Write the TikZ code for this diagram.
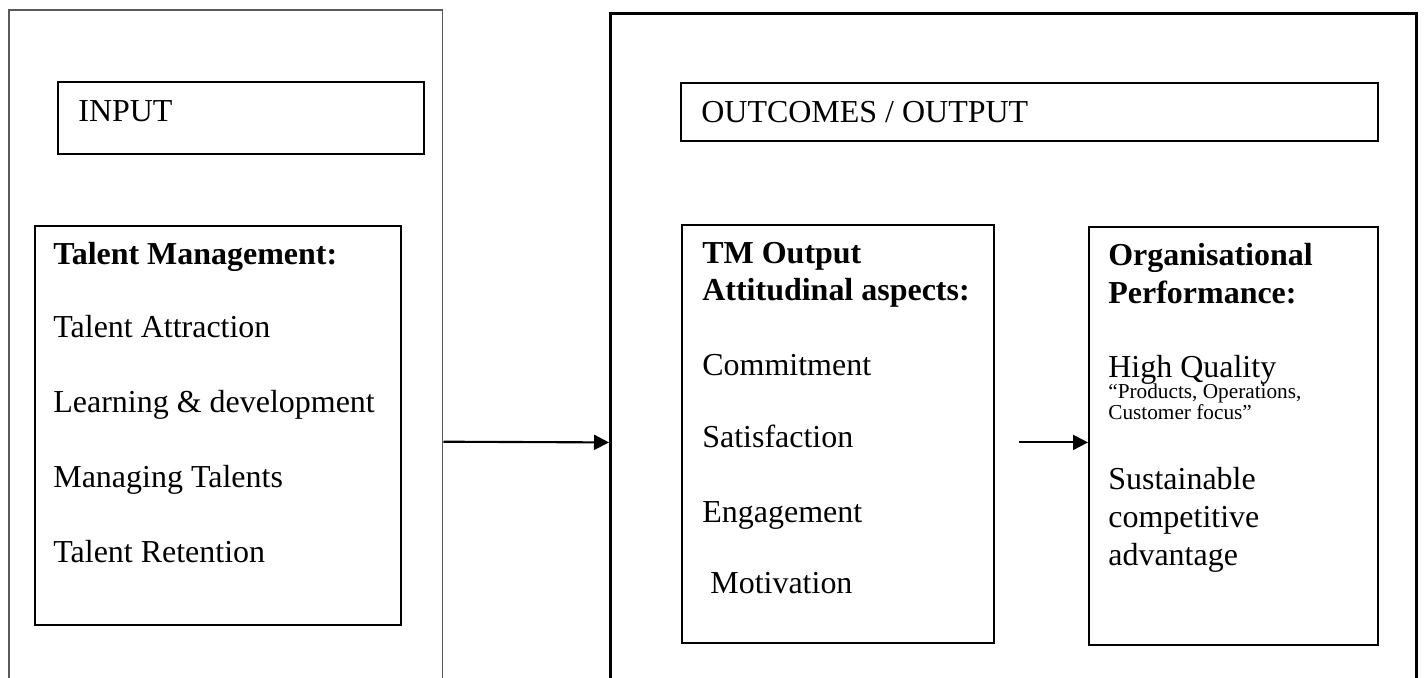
\documentclass[tikz,border=0pt]{standalone}
\usepackage{fontspec}
\setmainfont{Liberation Serif}
\usetikzlibrary{arrows.meta,positioning,calc}

\begin{document}
\begin{tikzpicture}[
    x=0.02cm, y=-0.02cm,
    outerbox/.style={rectangle, draw=black, line width=1.7pt, anchor=north west, inner sep=0pt},
    thinbox/.style={outerbox, draw=black!65, line width=0.9pt},
    panel/.style={rectangle, draw=black, line width=1.1pt, anchor=north west, inner sep=0pt},
    headtxt/.style={anchor=base west, inner sep=0pt, font=\fontsize{18.2}{21}\selectfont\bfseries},
    itemtxt/.style={anchor=base west, inner sep=0pt, font=\fontsize{18.2}{21}\selectfont},
    notetxt/.style={anchor=base west, inner sep=0pt, font=\fontsize{12.1}{13}\selectfont},
    arr/.style={-{Triangle[length=0.3cm, width=0.3cm]}, line width=1.2pt}
]
    \useasboundingbox (0,0) rectangle (1424,677);
    \clip (0,0) rectangle (1424,677);

    % Outer frames (run past the bottom of the page)
    \node[thinbox, minimum width=8.68cm, minimum height=17.28cm] (inframe) at (8,9) {};
    \node[outerbox, minimum width=16.12cm, minimum height=17.16cm] (outframe) at (609,12) {};

    % Input side
    \node[panel, minimum width=7.32cm, minimum height=1.44cm] (inputbox) at (57,81) {};
    \node[itemtxt] (inputlbl) at ($(inputbox.north west)+(21,40)$) {INPUT};
    \node[panel, minimum width=7.32cm, minimum height=7.98cm] (tm) at (34,225) {};
    \node[headtxt] (tmhead) at ($(tm.north west)+(19,39)$) {Talent Management:};
    \foreach \txt [count=\i] in {Talent Attraction, Learning \& development, Managing Talents, Talent Retention}
        \node[itemtxt] (tm-\i) at ($(tmhead.base west)+(0,{73+75*(\i-1)})$) {\txt};

    % Outcomes side
    \node[panel, minimum width=13.94cm, minimum height=1.16cm] (outbox) at (680,82) {};
    \node[itemtxt] (outlbl) at ($(outbox.north west)+(21,40)$) {OUTCOMES / OUTPUT};
    \node[panel, minimum width=6.24cm, minimum height=8.36cm] (tmout) at (681,224) {};
    \node[headtxt] (attA) at ($(tmout.north west)+(21,39)$) {TM Output};
    \node[headtxt] (attB) at ($(attA.base west)+(0,37)$) {Attitudinal aspects:};
    \foreach \txt/\dy [count=\i] in {Commitment/75, Satisfaction/147, Engagement/222, \ Motivation/293}
        \node[itemtxt] (att-\i) at ($(attB.base west)+(0,\dy)$) {\txt};

    % Performance side
    \node[panel, minimum width=5.78cm, minimum height=8.36cm] (org) at (1088,226) {};
    \node[headtxt] (orgA) at ($(org.north west)+(20,39)$) {Organisational};
    \node[headtxt] (orgB) at ($(orgA.base west)+(0,38)$) {Performance:};
    \node[itemtxt] (hq) at ($(orgB.base west)+(0,74)$) {High Quality};
    \node[notetxt] (hqA) at ($(hq.base west)+(0,21)$) {“Products, Operations,};
    \node[notetxt] (hqB) at ($(hqA.base west)+(0,21)$) {Customer focus”};
    \node[itemtxt] (sca) at ($(hqB.base west)+(0,70)$) {Sustainable};
    \node[itemtxt] (scb) at ($(sca.base west)+(0,38)$) {competitive};
    \node[itemtxt] (scc) at ($(scb.base west)+(0,38)$) {advantage};

    % Connectors
    \draw[arr] (inframe.east) -- (outframe.west);
    \coordinate (gapstart) at ($(tmout.east |- outframe.west)+(24,0)$);
    \draw[arr] (gapstart) -- (gapstart -| org.west);
\end{tikzpicture}
\end{document}
